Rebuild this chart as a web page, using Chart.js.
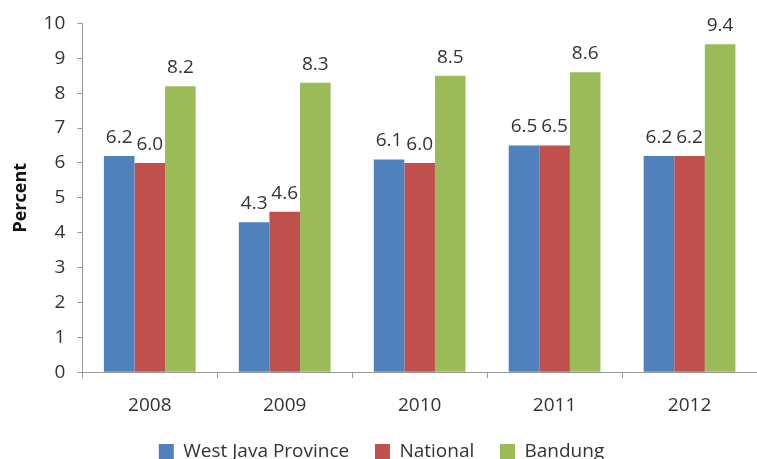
<!DOCTYPE html>
<html>
<head>
<meta charset="utf-8">
<script src="https://cdn.jsdelivr.net/npm/chart.js@4"></script>
<style>
  html, body { margin: 0; padding: 0; background: #fff; }
  #wrap { width: 757px; height: 459px; }
</style>
</head>
<body>
<div id="wrap"><canvas id="chart"></canvas></div>
<script>
// Chart data
const years = ["2008", "2009", "2010", "2011", "2012"];
const westJava = [6.2, 4.3, 6.1, 6.5, 6.2];
const national = [6.0, 4.6, 6.0, 6.5, 6.2];
const bandung = [8.2, 8.3, 8.5, 8.6, 9.4];

const FONT = "'Open Sans', 'DejaVu Sans', sans-serif";
const TEXT = "#333";

// Draw value labels above each bar
const barLabels = {
  id: "barLabels",
  afterDatasetsDraw(chart) {
    const ctx = chart.ctx;
    ctx.save();
    ctx.font = "19px " + FONT;
    ctx.fillStyle = TEXT;
    ctx.textAlign = "center";
    ctx.textBaseline = "alphabetic";
    chart.data.datasets.forEach((ds, i) => {
      chart.getDatasetMeta(i).data.forEach((bar, j) => {
        ctx.fillText(ds.data[j].toFixed(1), bar.x, bar.y - 13);
      });
    });
    ctx.restore();
  }
};

const ctx = document.getElementById("chart").getContext("2d");

new Chart(ctx, {
  type: "bar",
  data: {
    labels: years,
    datasets: [
      { label: "West Java Province", data: westJava, backgroundColor: "#4F81BD" },
      { label: "National", data: national, backgroundColor: "#C0504D" },
      { label: "Bandung", data: bandung, backgroundColor: "#9BBB59" }
    ]
  },
  options: {
    responsive: true,
    maintainAspectRatio: false,
    animation: false,
    layout: { padding: { top: 14, right: 0, left: 6, bottom: -12 } },
    datasets: {
      bar: { categoryPercentage: 0.68, barPercentage: 1.0 }
    },
    plugins: {
      legend: {
        position: "bottom",
        labels: {
          boxWidth: 15,
          boxHeight: 15,
          padding: 1,
          color: TEXT,
          font: { family: FONT, size: 19 },
          generateLabels(chart) {
            const items = Chart.defaults.plugins.legend.labels.generateLabels(chart);
            return items.map((l, i) => {
              if (i < items.length - 1) l.text = l.text + "     ";
              l.lineWidth = 0;
              return l;
            });
          }
        }
      },
      tooltip: { enabled: false }
    },
    scales: {
      x: {
        offset: true,
        grid: {
          display: true,
          drawOnChartArea: false,
          offset: true,
          tickLength: 6,
          color: "#999"
        },
        border: { color: "#999" },
        ticks: { color: TEXT, font: { family: FONT, size: 19 }, padding: 16 },
        afterFit(scale) { scale.height += 8; }
      },
      y: {
        min: 0,
        max: 10,
        ticks: { stepSize: 1, color: TEXT, font: { family: FONT, size: 19 }, padding: 12 },
        grid: {
          display: true,
          drawOnChartArea: false,
          tickLength: 5,
          color: "#999"
        },
        border: { color: "#999" },
        title: {
          display: true,
          text: "Percent",
          color: "#111",
          font: { family: FONT, size: 18, weight: "bold" },
          padding: { top: 4, bottom: 0 }
        }
      }
    }
  },
  plugins: [barLabels]
});
</script>
</body>
</html>
